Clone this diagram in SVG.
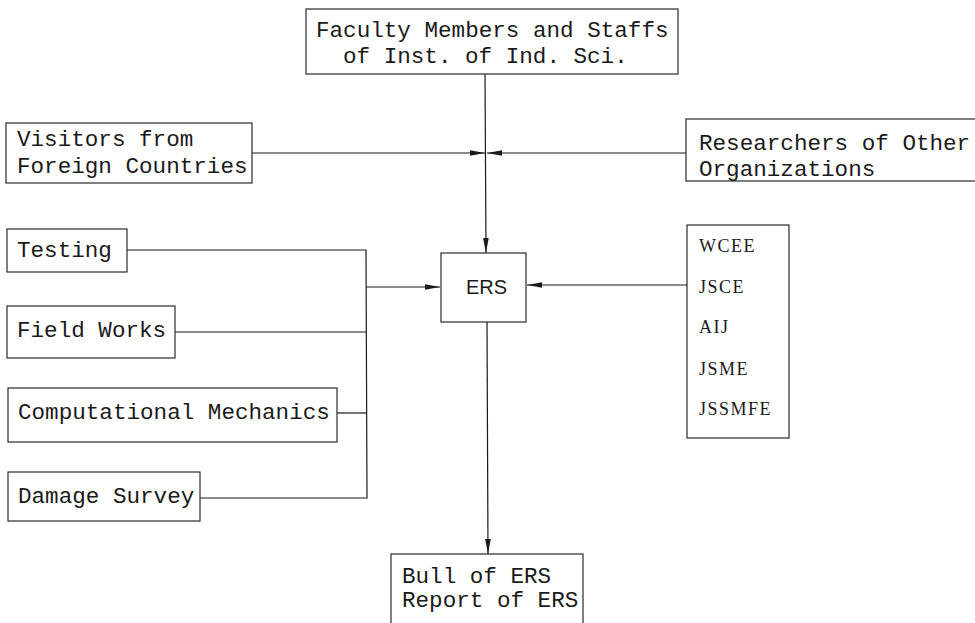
<svg xmlns="http://www.w3.org/2000/svg" width="975" height="623" viewBox="0 0 975 623">
<style>
.box{fill:#fff;stroke:#2a2a2a;stroke-width:1.2}
.t{font-family:"Liberation Mono","DejaVu Sans Mono",monospace;font-size:22.6px;fill:#1a1a1a}
.s{font-family:"Liberation Sans",Arial,sans-serif;font-size:20px;fill:#1a1a1a}
.r{font-family:"Liberation Serif","Times New Roman",serif;font-size:18px;letter-spacing:1.5px;fill:#1a1a1a}
.c{fill:none;stroke:#1a1a1a;stroke-width:1.2}
</style>
<defs>
<marker id="ah" markerUnits="userSpaceOnUse" markerWidth="16" markerHeight="8" refX="15" refY="4" orient="auto">
<path d="M0,1.2 L15,4 L0,6.8 Z" fill="#1a1a1a"/>
</marker>
</defs>
<rect width="975" height="623" fill="#fff"/>
<g id="connectors">
<line class="c" x1="485" y1="74" x2="486" y2="253" marker-end="url(#ah)"/>
<line class="c" x1="252" y1="153" x2="485" y2="153" marker-end="url(#ah)"/>
<line class="c" x1="686" y1="153" x2="487" y2="153" marker-end="url(#ah)"/>
<polyline class="c" points="127,250 366,250 367,498 200,498"/>
<line class="c" x1="175" y1="332" x2="366" y2="332"/>
<line class="c" x1="337" y1="413" x2="367" y2="413"/>
<line class="c" x1="366" y1="287" x2="440" y2="287" marker-end="url(#ah)"/>
<line class="c" x1="687" y1="285" x2="527" y2="285" marker-end="url(#ah)"/>
<line class="c" x1="487" y1="322" x2="488" y2="554" marker-end="url(#ah)"/>
</g>
<g id="faculty">
<rect class="box" x="306" y="9" width="372" height="65"/>
<text class="t" x="316" y="37">Faculty Members and Staffs</text>
<text class="t" x="343" y="63">of Inst. of Ind. Sci.</text>
</g>
<g id="visitors">
<rect class="box" x="6" y="123" width="246" height="60"/>
<text class="t" x="17" y="146">Visitors from</text>
<text class="t" x="17" y="173">Foreign Countries</text>
</g>
<g id="researchers">
<rect class="box" x="686" y="119" width="295" height="62"/>
<text class="t" x="699" y="150">Researchers of Other</text>
<text class="t" x="699" y="176">Organizations</text>
</g>
<g id="testing">
<rect class="box" x="7" y="229" width="120" height="43"/>
<text class="t" x="17" y="257">Testing</text>
</g>
<g id="fieldworks">
<rect class="box" x="7" y="306" width="168" height="52"/>
<text class="t" x="17" y="337">Field Works</text>
</g>
<g id="computational">
<rect class="box" x="8" y="388" width="329" height="54"/>
<text class="t" x="18" y="419">Computational Mechanics</text>
</g>
<g id="damage">
<rect class="box" x="8" y="472" width="192" height="49"/>
<text class="t" x="18" y="503">Damage Survey</text>
</g>
<g id="ers">
<rect class="box" x="441" y="253" width="85" height="69"/>
<text class="s" x="466" y="294">ERS</text>
</g>
<g id="societies">
<rect class="box" x="687" y="225" width="102" height="213"/>
<text class="r" x="699" y="252">WCEE</text>
<text class="r" x="699" y="293">JSCE</text>
<text class="r" x="699" y="333">AIJ</text>
<text class="r" x="699" y="375">JSME</text>
<text class="r" x="699" y="415">JSSMFE</text>
</g>
<g id="bulletin">
<rect class="box" x="391" y="554" width="192" height="80"/>
<text class="t" x="402" y="583">Bull of ERS</text>
<text class="t" x="402" y="607">Report of ERS</text>
</g>
</svg>
